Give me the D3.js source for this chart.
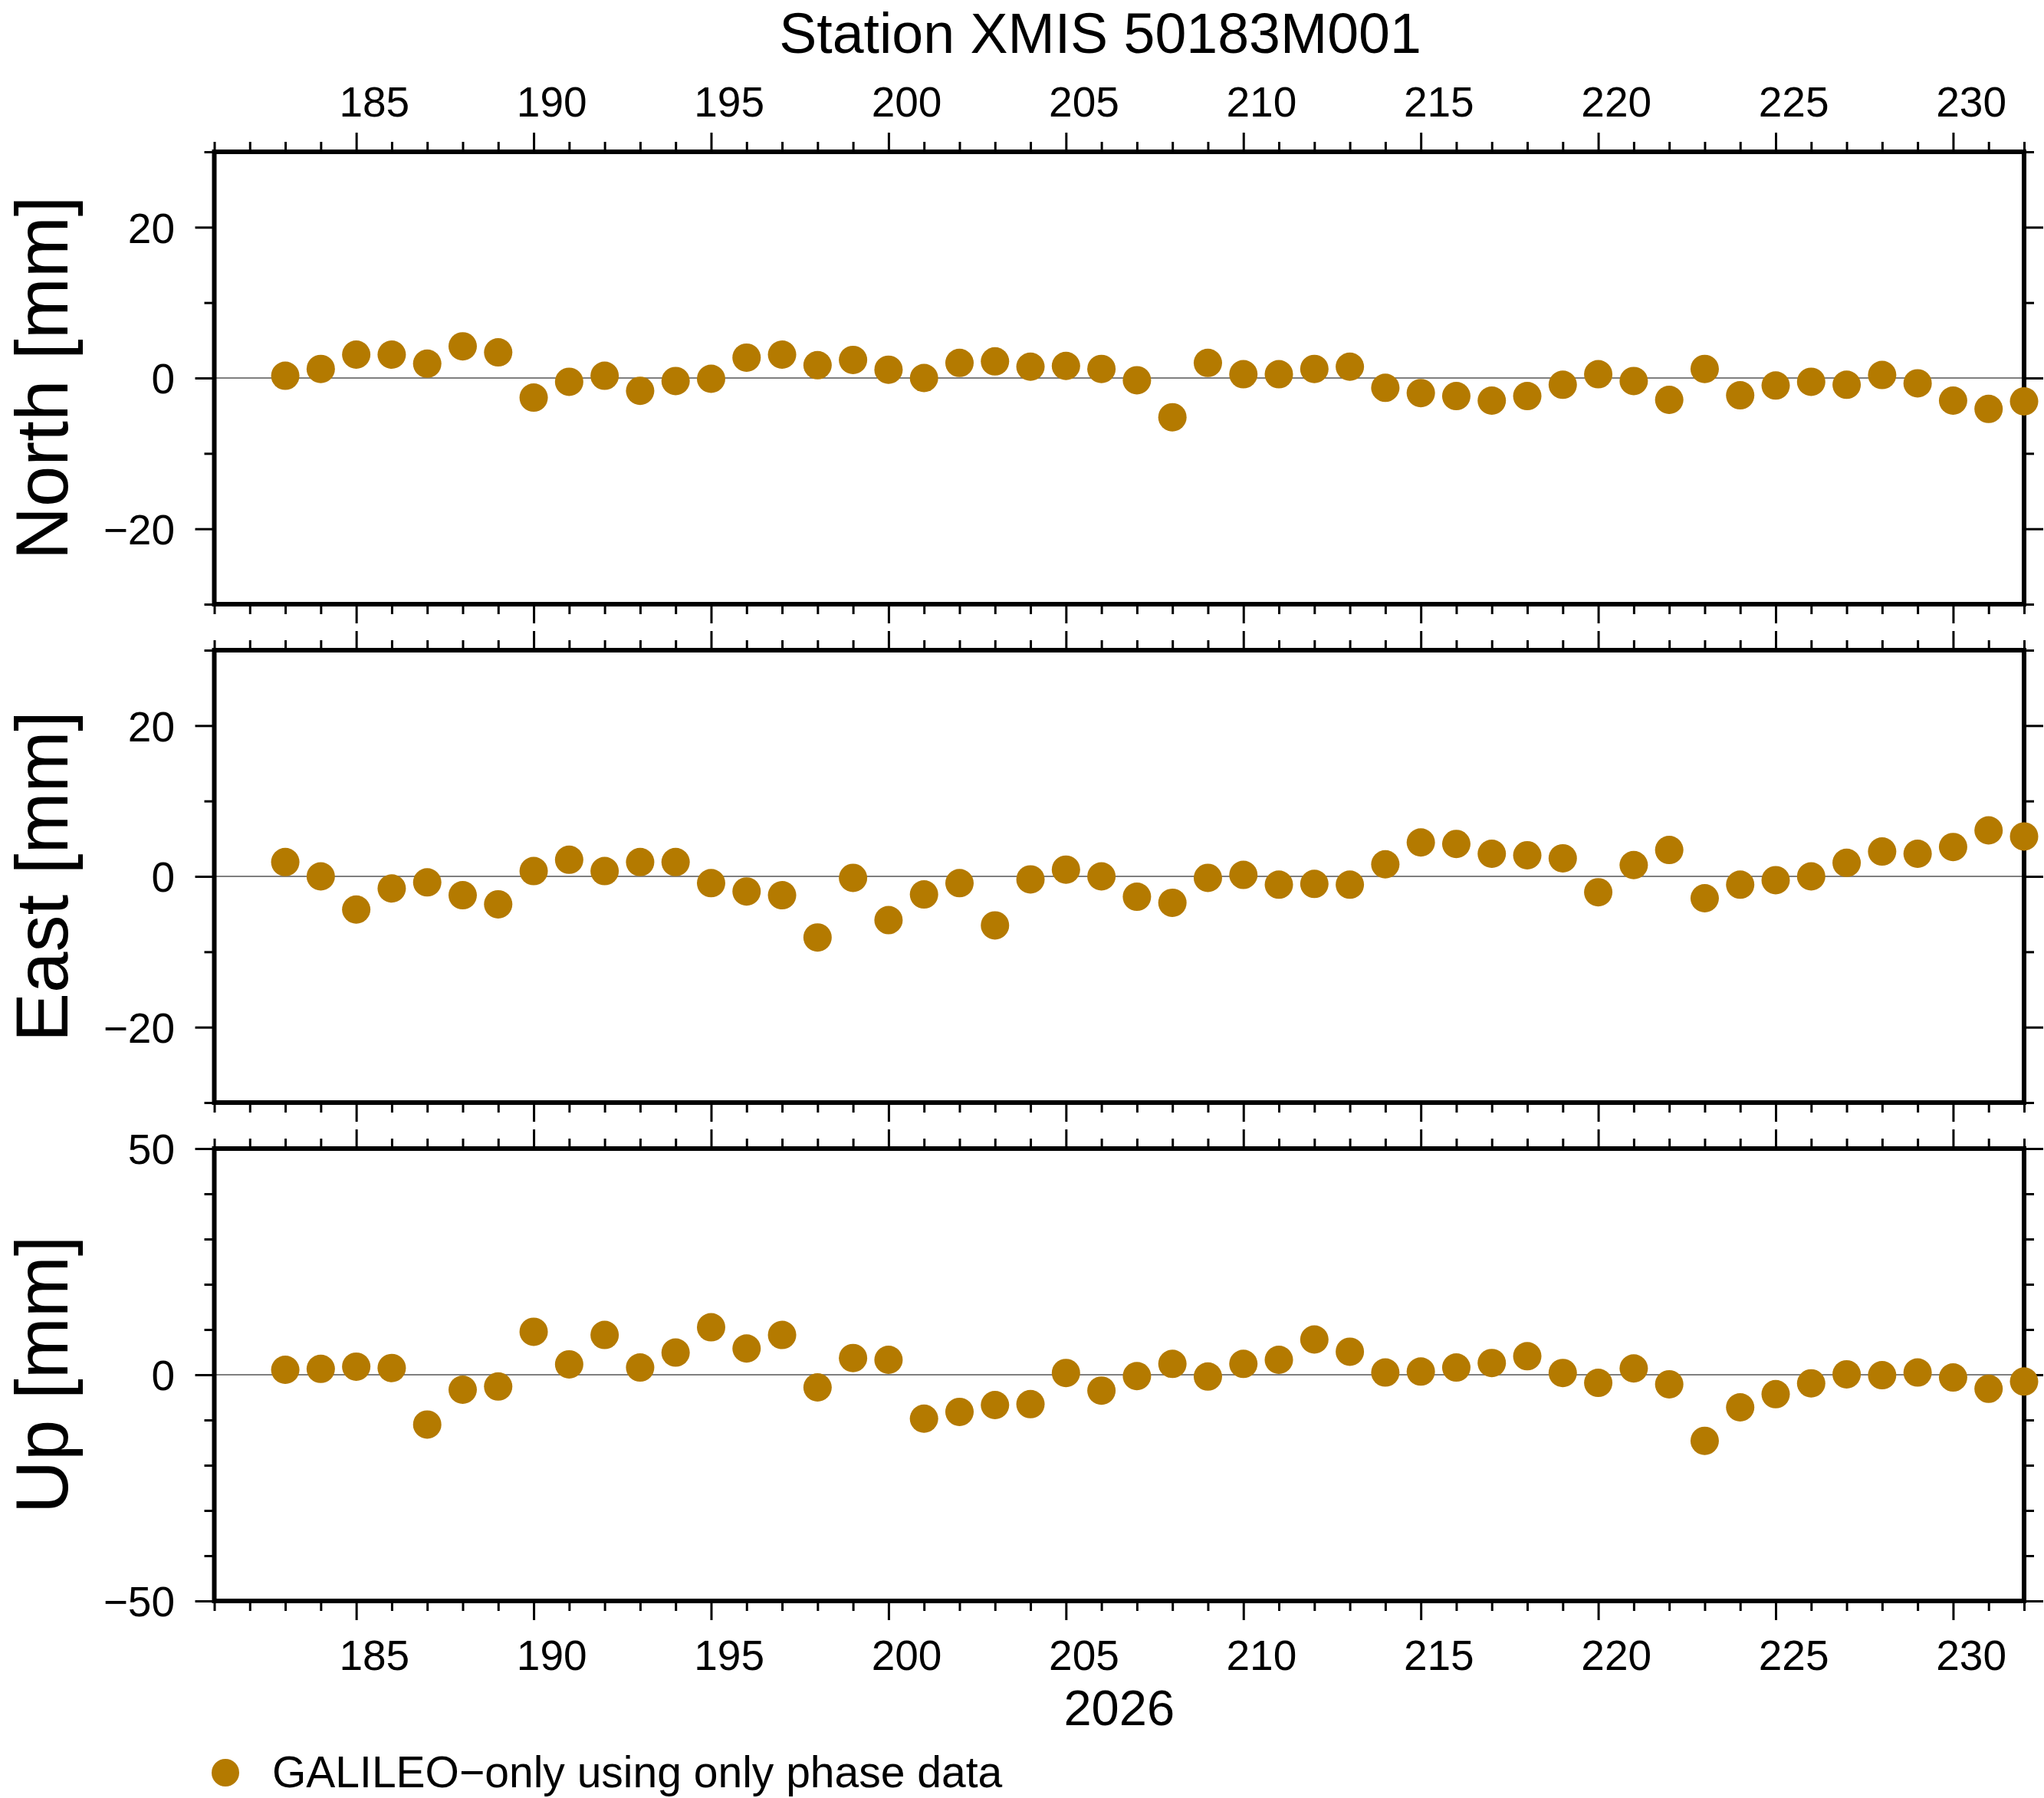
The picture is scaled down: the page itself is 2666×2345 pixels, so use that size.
<!DOCTYPE html>
<html>
<head>
<meta charset="utf-8">
<script src="https://cdn.jsdelivr.net/npm/d3@7"></script>
<style>
  body { margin: 0; background: #fff; }
  svg { display: block; }
</style>
</head>
<body>
<div id="chart"></div>
<script>

// day of year 2026
var days = [183, 184, 185, 186, 187, 188, 189, 190, 191, 192,
            193, 194, 195, 196, 197, 198, 199, 200, 201, 202,
            203, 204, 205, 206, 207, 208, 209, 210, 211, 212,
            213, 214, 215, 216, 217, 218, 219, 220, 221, 222,
            223, 224, 225, 226, 227, 228, 229, 230, 231, 232];

var north = [0.3, 1.2, 3.1, 3.1, 1.9, 4.2, 3.4, -2.6, -0.5, 0.3,
             -1.7, -0.4, -0.1, 2.7, 3.1, 1.7, 2.4, 1.1, 0.0, 2.0,
             2.2, 1.5, 1.6, 1.2, -0.3, -5.2, 2.0, 0.5, 0.5, 1.2,
             1.5, -1.3, -2.0, -2.4, -3.0, -2.4, -0.9, 0.5, -0.4, -2.9,
             1.2, -2.3, -1.0, -0.5, -0.9, 0.4, -0.7, -3.0, -4.1, -3.1];

var east = [1.9, 0.0, -4.4, -1.6, -0.8, -2.5, -3.7, 0.7, 2.2, 0.7,
            1.9, 1.9, -0.9, -2.0, -2.5, -8.1, -0.2, -5.8, -2.4, -0.9,
            -6.5, -0.4, 0.9, 0.0, -2.7, -3.5, -0.2, 0.2, -1.1, -1.0,
            -1.1, 1.6, 4.5, 4.3, 3.0, 2.8, 2.4, -2.1, 1.5, 3.5,
            -2.9, -1.1, -0.5, 0.0, 1.8, 3.3, 3.0, 3.9, 6.1, 5.3];

var up = [1.1, 1.3, 1.8, 1.5, -11.0, -3.3, -2.6, 9.5, 2.3, 8.8,
          1.6, 4.9, 10.5, 5.8, 8.8, -2.8, 3.7, 3.3, -9.7, -8.2,
          -6.7, -6.5, 0.4, -3.5, -0.3, 2.4, -0.4, 2.4, 3.3, 7.8,
          5.1, 0.5, 0.7, 1.6, 2.6, 4.1, 0.4, -1.8, 1.4, -2.1,
          -14.6, -7.2, -4.3, -1.9, 0.1, -0.1, 0.5, -0.6, -3.1, -1.5];

var dayRange = [181, 232];
var dayMinor = [181, 182, 183, 184, 186, 187, 188, 189, 191, 192, 193, 194,
                196, 197, 198, 199, 201, 202, 203, 204, 206, 207, 208, 209,
                211, 212, 213, 214, 216, 217, 218, 219, 221, 222, 223, 224,
                226, 227, 228, 229, 231, 232];
var dayMajor = [185, 190, 195, 200, 205, 210, 215, 220, 225, 230];

var panelNames = ["North [mm]", "East [mm]", "Up [mm]"];
var panelDomains = [[-30, 30], [-30, 30], [-50, 50]];
var panelMajor = [[-20, 0, 20], [-20, 0, 20], [-50, 0, 50]];
var panelMinor = [[-30, -10, 10, 30], [-30, -10, 10, 30],
                  [-40, -30, -20, -10, 10, 20, 30, 40]];
var panelValues = [north, east, up];

var title = "Station XMIS 50183M001";
var yearLabel = "2026";
var legendLabel = "GALILEO\u2212only using only phase data";

var width = 2666, height = 2345;
var frameL = 279.5, frameR = 2640;
var panelTops = [198, 848, 1498];
var panelH = 590;
var minorLen = 13, majorLen = 25;
var dotColor = "#b47a00";
var font = "'Liberation Sans', Arial, Helvetica, sans-serif";

var svg = d3.select("#chart").append("svg")
    .attr("width", width)
    .attr("height", height)
    .style("font-family", font);

var x = d3.scaleLinear().domain(dayRange).range([frameL, frameR]);

function styleAxis(g) {
    g.select(".domain").remove();
    g.attr("font-family", font);
    g.selectAll(".tick line").attr("stroke", "#000").attr("stroke-width", 3);
    g.selectAll(".tick text").attr("fill", "#000");
}

panelNames.forEach(function(name, i) {
    var top = panelTops[i], bottom = top + panelH;
    var y = d3.scaleLinear().domain(panelDomains[i]).range([bottom, top]);
    var g = svg.append("g").attr("class", "panel");

    // x ticks on top and bottom of frame
    [[d3.axisTop, top], [d3.axisBottom, bottom]].forEach(function(a) {
        g.append("g").attr("transform", `translate(0,${a[1]})`)
            .call(a[0](x).tickValues(dayMinor).tickSize(minorLen).tickFormat(""))
            .call(styleAxis);
        g.append("g").attr("transform", `translate(0,${a[1]})`)
            .call(a[0](x).tickValues(dayMajor).tickSize(majorLen).tickFormat(""))
            .call(styleAxis);
    });

    // y ticks left and right
    [[d3.axisLeft, frameL], [d3.axisRight, frameR]].forEach(function(a) {
        g.append("g").attr("transform", `translate(${a[1]},0)`)
            .call(a[0](y).tickValues(panelMinor[i]).tickSize(minorLen).tickFormat(""))
            .call(styleAxis);
        g.append("g").attr("transform", `translate(${a[1]},0)`)
            .call(a[0](y).tickValues(panelMajor[i]).tickSize(majorLen).tickFormat(""))
            .call(styleAxis);
    });

    // y labels
    var yl = g.append("g").attr("transform", `translate(${frameL},0)`)
        .call(d3.axisLeft(y).tickValues(panelMajor[i]).tickSize(0).tickPadding(51.5))
        .call(styleAxis);
    yl.selectAll("text").attr("font-size", 55).attr("dy", "0.36em");

    // zero line
    g.append("line")
        .attr("x1", frameL).attr("x2", frameR)
        .attr("y1", y(0)).attr("y2", y(0))
        .attr("stroke", "#000").attr("stroke-width", 1.2);

    // frame
    g.append("rect")
        .attr("x", frameL).attr("y", top)
        .attr("width", frameR - frameL).attr("height", panelH)
        .attr("fill", "none").attr("stroke", "#000").attr("stroke-width", 6);

    // points
    g.append("g").selectAll("circle")
        .data(panelValues[i]).enter()
        .append("circle")
        .attr("cx", (d, j) => x(days[j]))
        .attr("cy", d => y(d))
        .attr("r", 18.5)
        .attr("fill", dotColor);

    // panel label
    g.append("text")
        .attr("transform", `translate(88,${(top + bottom) / 2}) rotate(-90)`)
        .attr("text-anchor", "middle")
        .attr("font-size", 96)
        .text(name);
});

// day labels centered in each day interval
var labelDays = dayMajor.map(d => d + 0.5);
var topLab = svg.append("g").attr("transform", `translate(0,${panelTops[0]})`)
    .call(d3.axisTop(x).tickValues(labelDays).tickSize(0).tickPadding(46)
        .tickFormat(d => Math.floor(d)))
    .call(styleAxis);
topLab.selectAll("text").attr("font-size", 55).attr("dy", 0);

var botLab = svg.append("g").attr("transform", `translate(0,${panelTops[2] + panelH})`)
    .call(d3.axisBottom(x).tickValues(labelDays).tickSize(0).tickPadding(90)
        .tickFormat(d => Math.floor(d)))
    .call(styleAxis);
botLab.selectAll("text").attr("font-size", 55).attr("dy", 0);

// title
svg.append("text")
    .attr("x", 1435).attr("y", 69)
    .attr("text-anchor", "middle")
    .attr("font-size", 73.5)
    .text(title);

// year
svg.append("text")
    .attr("x", (frameL + frameR) / 2).attr("y", 2250)
    .attr("text-anchor", "middle")
    .attr("font-size", 65)
    .text(yearLabel);

// legend
svg.append("circle")
    .attr("cx", 294).attr("cy", 2312).attr("r", 18)
    .attr("fill", dotColor);
svg.append("text")
    .attr("x", 355).attr("y", 2331)
    .attr("font-size", 57)
    .text(legendLabel);

</script>
</body>
</html>
